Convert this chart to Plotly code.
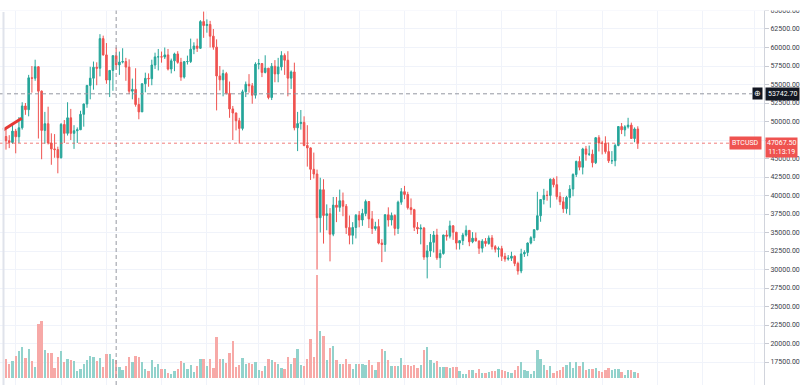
import pandas as pd
import plotly.graph_objects as go

# ---------------- data (daily BTCUSD, 2021-02-12 .. 2021-08-26) ----------------
start_date = "2021-02-12"
first_open = 47970

close = [
    47400, 47170, 48700, 47940, 49150, 52100, 51600, 55900, 55850, 57400,
    54100, 48800, 49700, 47100, 46300, 46200, 45100,
    49600, 48400, 50500, 48400, 48750, 48880, 50970, 52370, 54880, 55850,
    57330, 57200, 61200, 59000, 55600, 56900, 58900, 57650, 58030, 58100,
    57350, 54100, 54340, 52300, 51300, 55100, 55830, 55780, 57630, 58730, 58740,
    58720, 59000, 57090, 58200, 59130, 57990, 56000, 58090, 58100, 59770,
    60200, 59890, 63500, 62970, 63110, 61530, 60050, 56150, 55630, 56470,
    53800, 51700, 51150, 50100, 49070, 54020, 55030, 54830, 53550, 57750,
    57830, 56630, 57210, 53240, 57470, 56430, 57380, 58930, 58280, 55860,
    56700, 49150, 49720, 49880, 46760, 46430, 43540, 42900, 37000, 40780,
    37300, 37530, 34770, 38700, 38400, 39290, 38550, 35660, 34620, 35680, 37340,
    36690, 37570, 39190, 36840, 35540, 35800, 33570, 33380, 37390, 36690,
    37310, 35550, 39100, 40520, 40140, 38350, 38090, 35700, 35480, 35600,
    31680, 32510, 33670, 34660, 31580, 32160, 34660, 34500, 35900, 35040,
    33570, 33900, 34660, 35290, 33740, 34230, 33860, 32880, 33820, 33510,
    34260, 33090, 32730, 32820, 31780, 31420, 31530, 31800, 30820, 29800,
    32110, 32310, 33580, 34290, 35380, 37270, 39460, 40020, 40010, 42200, 41460,
    39850, 39150, 38210, 39740, 40870, 42840, 44610, 43820, 46290, 45580,
    45590, 44430, 47810, 47100, 47050, 45930, 44690, 44700, 46760, 49320,
    48870, 49280, 49510, 47700, 48990, 47067.5,
]

high = [
    48980, 48150, 49700, 49000, 50600, 52600, 52500, 56300, 57500, 58350,
    57500, 54200, 51300, 52000, 48400, 48300, 46600,
    49800, 50200, 52600, 51700, 49500, 49200, 51450, 52400, 54900, 57400,
    58100, 58000, 61800, 61600, 60600, 56950, 58950, 60000, 59450, 59900,
    58600, 58400, 55800, 57200, 53200, 55150, 56600, 56500, 58350, 59300, 59800,
    59450, 60000, 59800, 58500, 59300, 59500, 58600, 58150, 58900, 61200,
    60700, 61200, 63700, 64850, 63800, 63600, 62500, 61100, 57500, 57000,
    56700, 55400, 52100, 51200, 50500, 54300, 55400, 56400, 55200, 58000,
    58450, 57900, 58950, 57200, 57900, 58300, 58600, 59500, 59200, 59500,
    56900, 57950, 51300, 51550, 50700, 49500, 46500, 45800, 43500, 42400,
    42200, 38800, 38300, 39800, 39800, 40800, 40400, 38850, 37300, 36400, 37500,
    37900, 38200, 39450, 39250, 37900, 36450, 36800, 34100, 37500, 38400,
    37700, 37450, 39300, 41000, 41300, 40500, 39600, 38200, 36400, 36100,
    35750, 33300, 34800, 35200, 35500, 32700, 34700, 35300, 36600, 36000,
    35050, 33900, 34950, 35950, 35300, 35050, 35000, 33900, 34100, 34250,
    34600, 34650, 33300, 33100, 33200, 32250, 31950, 32400, 31900, 31050,
    32800, 32600, 33650, 34500, 35400, 40500, 39500, 40900, 40650, 42300, 42400,
    42600, 40450, 39800, 39950, 41400, 43000, 44700, 45300, 46450, 46700,
    46750, 46200, 47900, 48150, 47400, 48000, 47150, 46000, 47000, 49350,
    49800, 49500, 50500, 49850, 49200, 49350,
]

low = [
    46200, 46400, 47000, 45700, 47100, 48900, 50900, 50700, 53900, 55500,
    47700, 44900, 47000, 46900, 44150, 45100, 43000,
    45000, 47100, 48100, 47500, 46300, 47100, 48900, 49300, 51850, 53000,
    54300, 54900, 56100, 58900, 55100, 53300, 54150, 57000, 56300, 57850,
    55500, 53700, 53000, 52000, 50300, 51300, 53950, 54700, 54900, 57100, 56900,
    57950, 58450, 56900, 56500, 56800, 57800, 55500, 55800, 57700, 57900,
    59100, 59400, 59800, 61300, 62000, 60000, 59700, 51500, 54200, 53400,
    53650, 50500, 47500, 48800, 47000, 48800, 53300, 53900, 52400, 53100,
    57050, 56000, 56500, 53000, 52900, 55300, 55300, 56900, 56300, 53400,
    54400, 48800, 46000, 48900, 46650, 43900, 42100, 42300, 30000, 35000,
    33500, 35300, 31100, 34500, 36400, 37800, 37200, 34800, 33400, 33400, 34200,
    35700, 35900, 37200, 35600, 34800, 35250, 33400, 31000, 32400, 35800,
    35950, 34600, 34800, 38750, 39500, 38100, 37400, 35200, 34800, 33400,
    31300, 28800, 31700, 32300, 31300, 30200, 32000, 33900, 34200, 34000,
    32700, 32700, 33300, 34450, 33150, 33550, 33800, 32100, 32300, 33100,
    33350, 32700, 32300, 31650, 31150, 31050, 31200, 31150, 30450, 29300,
    29500, 31700, 31800, 33400, 33850, 35300, 36450, 38800, 39300, 38350, 41100,
    39450, 38700, 37650, 37550, 37350, 39900, 42500, 43400, 42850, 44700,
    45350, 43800, 44250, 45950, 45550, 45650, 44400, 44250, 43950, 46650,
    48300, 48000, 49050, 47650, 47200, 46300,
]

# volume (BTC)
volume = [
    19000, 14000, 17000, 22000, 27000, 31000, 20000, 29000, 17000, 11000,
    54000, 57000, 28000, 25000, 25000, 10000, 21000, 27000, 16000, 19000,
    18000, 17000, 7000, 9000, 14000, 18000, 22000, 21000, 17000, 20000,
    11000, 24000, 24000, 19000, 18000, 11000, 8000, 12000, 21000, 16000,
    22000, 21000, 16000, 9000, 7000, 18000, 11000, 14000, 9000, 9000,
    5000, 4000, 7000, 9000, 17000, 15000, 9000, 13000, 6000, 12000,
    19000, 19000, 12000, 19000, 10000, 41000, 19000, 19000, 15000, 25000,
    37000, 11000, 13000, 20000, 14000, 15000, 14000, 16000, 8000, 7000,
    12000, 19000, 18000, 16000, 14000, 10000, 9000, 21000, 14000, 20000,
    29000, 13000, 12000, 19000, 39000, 21000, 103000,
    47000, 42000, 18000, 30000, 32000, 18000, 14000, 14000, 19000, 14000,
    9000, 14000, 14000, 14000, 13000, 18000, 13000, 8000, 16000, 29000,
    27000, 18000, 12000, 12000, 12000, 20000, 13000, 13000, 12000, 13000,
    10000, 13000, 28000, 31000, 18000, 15000, 17000, 11000, 11000, 11000,
    10000, 11000, 11000, 7000, 4000, 4000, 8000, 8000, 5000, 9000,
    5000, 5000, 6000, 7000, 7000, 9000, 8000, 7000, 6000, 5000,
    8000, 12000, 16000, 8000, 7000, 4000, 7000, 28000, 19000, 13000,
    8000, 12000, 5000, 7000, 8000, 11000, 13000, 16000, 10000, 16000,
    12000, 16000, 8000, 9000, 9000, 10000, 7000, 6000, 8000, 10000,
    8000, 9000, 9000, 6000, 3000, 8000, 8000, 6000, 5000,
]

# drawing / crosshair / labels
trend_dates = ["2021-02-11 03:00", "2021-02-16 21:00"]
trend_prices = [48850, 50450]
crosshair_date = "2021-03-18"
crosshair_price = 53742.70
last_price = 47067.50
countdown = "11:13:19"
symbol = "BTCUSD"
price_ticks = [17500 + 2500 * k for k in range(20)]
hidden_ticks = [47500]  # covered by the last-price label
grid_dates = ["2021-02-15", "2021-03-01", "2021-03-15", "2021-04-01", "2021-04-15",
              "2021-05-01", "2021-05-15", "2021-06-01", "2021-06-15", "2021-07-01",
              "2021-07-15", "2021-08-01", "2021-08-15", "2021-09-01", "2021-09-15",
              "2021-10-01"]

# ---------------- figure ----------------
n = len(close)
dates = pd.date_range(start_date, periods=n, freq="D")
opens = [first_open] + close[:-1]

UP = "#26a69a"
DN = "#ef5350"
vol_colors = ["#92d2cc" if c >= o else "#f7a9a7" for o, c in zip(opens, close)]

W, H = 807, 385
PLOT_W = 764

fig = go.Figure()
fig.add_trace(go.Bar(
    x=dates, y=volume[:n], marker=dict(color=vol_colors, line=dict(width=0)),
    width=0.72 * 86400000, yaxis="y2", hoverinfo="skip",
))
fig.add_trace(go.Candlestick(
    x=dates, open=opens, high=high[:n], low=low[:n], close=close,
    increasing=dict(line=dict(color=UP, width=1), fillcolor=UP),
    decreasing=dict(line=dict(color=DN, width=1), fillcolor=DN),
    whiskerwidth=0,
))
fig.add_trace(go.Scatter(
    x=trend_dates, y=trend_prices, mode="lines",
    line=dict(color="#e53935", width=3), hoverinfo="skip",
))

t0 = pd.Timestamp(start_date)
x_range = [t0 - pd.Timedelta(days=1.85), t0 + pd.Timedelta(days=233.95)]

fig.update_layout(
    width=W, height=H,
    margin=dict(l=0, r=W - PLOT_W, t=0, b=0),
    paper_bgcolor="white", plot_bgcolor="white",
    showlegend=False,
    font=dict(family="Roboto, Arial, sans-serif", size=7, color="#3a3e4a"),
    bargap=0,
    xaxis=dict(
        type="date", range=x_range, rangeslider=dict(visible=False),
        tickvals=grid_dates, showticklabels=False, ticks="",
        showgrid=True, gridcolor="#f0f3fa", gridwidth=1,
        zeroline=False, showline=False, fixedrange=True,
    ),
    yaxis=dict(
        side="right", range=[14393, 66418],
        tickvals=price_ticks,
        ticktext=["" if v in hidden_ticks else f"{v:.2f}" for v in price_ticks],
        showgrid=True, gridcolor="#f0f3fa", gridwidth=1,
        ticks="outside", ticklen=4, tickcolor="#c8cbd3",
        showline=True, linecolor="#d1d4dc", linewidth=1,
        tickfont=dict(size=7, color="#3a3e4a"), zeroline=False,
    ),
    yaxis2=dict(overlaying="y", range=[-7000, 378000], visible=False),
)

shapes = [
    # crosshair
    dict(type="line", xref="x", yref="paper", x0=crosshair_date, x1=crosshair_date, y0=0, y1=1,
         line=dict(color="#9598a1", width=1, dash="4px,3px")),
    dict(type="line", xref="paper", yref="y", x0=0, x1=752 / PLOT_W, y0=crosshair_price, y1=crosshair_price,
         line=dict(color="#9598a1", width=1, dash="4px,3px")),
    # last price line
    dict(type="line", xref="paper", yref="y", x0=0, x1=735 / PLOT_W, y0=last_price, y1=last_price,
         line=dict(color="rgba(239,83,80,0.75)", width=1, dash="dot")),
    # white band at top (pane starts ~11px down)
    dict(type="rect", xref="paper", yref="paper", x0=-0.01, x1=W / PLOT_W, y0=1 - 10.5 / H, y1=1.01,
         fillcolor="white", line=dict(width=0), layer="above"),
    # left border
    dict(type="line", xref="paper", yref="paper", x0=3.5 / PLOT_W, x1=3.5 / PLOT_W, y0=0, y1=1 - 12 / H,
         line=dict(color="#e0e3eb", width=2), layer="above"),
]
fig.update_layout(shapes=shapes)

annotations = [
    dict(xref="paper", yref="y", x=1, y=crosshair_price, xanchor="left", yanchor="middle",
         text=f"{crosshair_price:.2f}", showarrow=False, bgcolor="#131722",
         font=dict(color="white", size=7), borderpad=2, xshift=1),
    dict(xref="paper", yref="y", x=757.5 / PLOT_W, y=crosshair_price, xanchor="center", yanchor="middle",
         text="⊕", showarrow=False, bgcolor="#131722",
         font=dict(color="white", size=8), borderpad=1),
    dict(xref="paper", yref="y", x=1, y=last_price, xanchor="left", yanchor="top",
         text=f"{last_price:.2f}<br>{countdown}", showarrow=False, bgcolor=DN,
         font=dict(color="white", size=7), borderpad=1, xshift=1, yshift=6, align="center"),
    dict(xref="paper", yref="y", x=762 / PLOT_W, y=last_price, xanchor="right", yanchor="middle",
         text=symbol, showarrow=False, bgcolor=DN,
         font=dict(color="white", size=7), borderpad=2),
]
fig.update_layout(annotations=annotations)

fig.write_html("out.html", config={"displayModeBar": False},
               post_script="document.body.style.margin='0px';")
